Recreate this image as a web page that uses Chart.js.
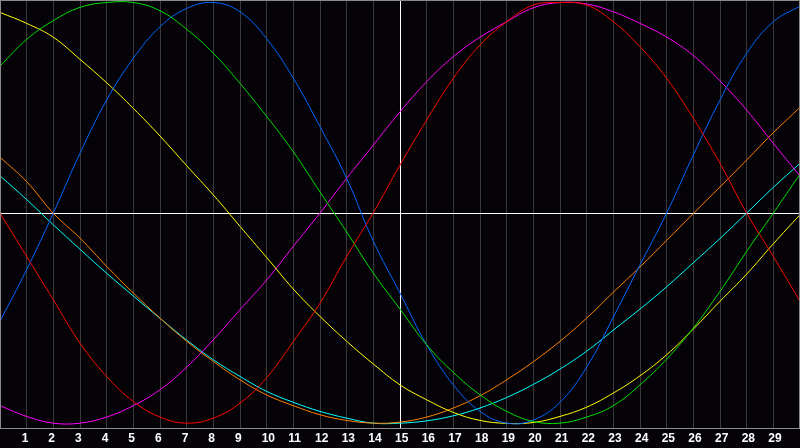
<!DOCTYPE html>
<html>
<head>
<meta charset="utf-8">
<script src="https://cdn.jsdelivr.net/npm/chart.js@4"></script>
<style>
  html, body { margin: 0; padding: 0; background: #050308; }
  #wrap { width: 800px; height: 448px; }
</style>
</head>
<body>
<div id="wrap"><canvas id="bio" width="800" height="448"></canvas></div>
<script>
// day positions along the x axis (0 and 30 sit on the frame edges)
const days = [0, 1, 2, 3, 4, 5, 6, 7, 8, 9, 10, 11, 12, 13, 14, 15, 16, 17, 18, 19, 20, 21, 22, 23, 24, 25, 26, 27, 28, 29, 30];
const dayLabels = ['1', '2', '3', '4', '5', '6', '7', '8', '9', '10', '11', '12', '13', '14', '15', '16', '17', '18', '19', '20', '21', '22', '23', '24', '25', '26', '27', '28', '29'];

// values in percent at each day
const redValues = [0, -20.6, -41.2, -61.8, -77.6, -89.5, -96.9, -99.8, -97.4, -90.3, -78.2, -61.0, -42.8, -20.6, 0.2, 22.8, 44.2, 64.0, 79.8, 90.9, 98.8, 100, 98.8, 90.9, 79.0, 64.0, 45.0, 23.6, 0, -20.6, -41.9];
const greenValues = [69.8, 82.5, 91.4, 97.7, 100, 100, 96.1, 87.3, 75.9, 61.6, 45.9, 29.1, 10.0, -9.0, -28.5, -45.6, -62.6, -75.7, -86.3, -94.2, -99.0, -99.8, -96.9, -91.5, -81.6, -69.4, -54.6, -37.2, -18.2, 0, 18.5];
const blueValues = [-51.4, -26.9, 0, 28.4, 53.7, 73.5, 88.5, 97.2, 100, 95.6, 82.8, 64.0, 41.0, 16.5, -13.4, -38.0, -62.6, -81.6, -94.2, -99.8, -98.3, -89.9, -73.2, -49.4, -24.6, 0, 27.6, 53.7, 75.9, 90.9, 98.3];
const yellowValues = [95.3, 90.1, 83.5, 73.0, 61.9, 49.7, 36.6, 22.5, 8.6, -6.3, -21.1, -36.1, -49.1, -60.9, -71.7, -81.6, -88.7, -94.7, -98.5, -99.9, -99.5, -96.6, -92.2, -85.5, -77.3, -67.3, -55.1, -41.9, -29.0, -14.6, -0.8];
const magentaValues = [-91.5, -96.6, -99.8, -99.8, -96.9, -91.5, -83.9, -73.2, -60.2, -45.9, -31.8, -15.8, 0, 16.5, 32.3, 48.1, 62.4, 74.3, 83.5, 90.9, 97.5, 100, 99.3, 95.6, 90.1, 83.6, 74.8, 62.8, 48.9, 33.1, 17.6];
const orangeValues = [26.5, 14.9, -0.1, -11.9, -25.3, -38.0, -49.9, -60.9, -70.5, -79.2, -86.4, -91.5, -95.8, -98.5, -99.8, -99.3, -96.9, -92.6, -86.8, -79.2, -70.6, -60.9, -49.9, -37.6, -25.6, -13.0, -0.2, 12.4, 25.2, 38.2, 50.2];
const cyanValues = [17.7, 6.4, -5.6, -17.2, -28.6, -39.4, -50.0, -60.3, -69.7, -77.6, -84.7, -89.9, -94.2, -97.4, -99.8, -99.8, -98.7, -96.3, -92.6, -87.6, -81.4, -74.1, -65.6, -55.6, -45.6, -35.0, -23.6, -12.1, 0, 12.2, 23.6];

const series = [
  { name: 'red', values: redValues, color: '#ff0000' },
  { name: 'green', values: greenValues, color: '#00e000' },
  { name: 'blue', values: blueValues, color: '#0066ff' },
  { name: 'yellow', values: yellowValues, color: '#ffff00' },
  { name: 'magenta', values: magentaValues, color: '#ff00ff' },
  { name: 'orange', values: orangeValues, color: '#ff8000' },
  { name: 'cyan', values: cyanValues, color: '#00ffff' }
];

// black page and grey frame around the plot
const frame = {
  id: 'frame',
  beforeDraw(chart) {
    const c = chart.ctx;
    c.save();
    c.fillStyle = '#050308';
    c.fillRect(0, 0, chart.width, chart.height);
    c.restore();
  },
  afterDraw(chart) {
    const a = chart.chartArea;
    const c = chart.ctx;
    c.save();
    c.strokeStyle = '#8a8a8a';
    c.lineWidth = 1;
    c.strokeRect(a.left + 0.5, a.top + 0.5, a.right - a.left - 1, a.bottom - a.top);
    c.restore();
  }
};

new Chart(document.getElementById('bio'), {
  type: 'line',
  data: {
    datasets: series.map(s => ({
      label: s.name,
      data: days.map((d, i) => ({ x: d, y: s.values[i] })),
      borderColor: s.color,
      borderWidth: 1,
      pointRadius: 0,
      tension: 0.4,
      fill: false
    }))
  },
  options: {
    responsive: false,
    animation: false,
    layout: { padding: 0 },
    plugins: {
      legend: { display: false },
      tooltip: { enabled: false }
    },
    scales: {
      x: {
        type: 'linear',
        min: 0,
        max: 30,
        border: { display: false },
        grid: {
          drawTicks: true,
          tickLength: 2,
          tickColor: 'transparent',
          lineWidth: 1,
          color: ctx => ctx.tick && ctx.tick.value === 15 ? '#ffffff' : '#3a3a3a'
        },
        ticks: {
          stepSize: 1,
          autoSkip: false,
          maxRotation: 0,
          padding: 0,
          align: 'start',
          labelOffset: -5,
          color: '#ffffff',
          font: { family: 'Liberation Sans', size: 12, weight: 'bold', lineHeight: 1.5 },
          callback: v => (v >= 1 && v <= 29) ? dayLabels[v - 1] : ''
        }
      },
      y: {
        min: -102.1,
        max: 101.2,
        border: { display: false },
        grid: {
          drawTicks: false,
          color: ctx => ctx.tick && ctx.tick.value === 0 ? '#ffffff' : 'transparent'
        },
        ticks: { display: false, stepSize: 50 }
      }
    }
  },
  plugins: [frame]
});
</script>
</body>
</html>
